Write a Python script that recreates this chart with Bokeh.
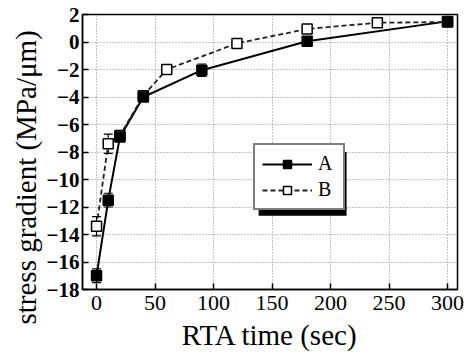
from bokeh.plotting import figure
from bokeh.models import (ColumnDataSource, Whisker, TeeHead, FixedTicker, Legend,
                          LegendItem, BoxAnnotation, Title, Range1d)
from bokeh.embed import file_html
from bokeh.resources import INLINE

# ---- data ----
x_A = [0, 10, 20, 40, 90, 180, 300]
y_A = [-17.0, -11.5, -6.9, -4.0, -2.05, 0.05, 1.5]
err_A = [0.5, 0.5, 0.3, 0.3, 0.45, 0.3, 0.2]

x_B = [0, 10, 20, 40, 60, 120, 180, 240, 300]
y_B = [-13.4, -7.4, -6.8, -3.9, -2.0, -0.1, 0.95, 1.4, 1.45]
err_B = [0.7, 0.7, 0.3, 0.3, 0.3, 0.3, 0.3, 0.3, 0.2]

x_ticks = [0, 50, 100, 150, 200, 250, 300]
y_ticks = [-18, -16, -14, -12, -10, -8, -6, -4, -2, 0, 2]

FONT = "Liberation Serif"

srcA = ColumnDataSource(dict(x=x_A, y=y_A,
                             lo=[y - e for y, e in zip(y_A, err_A)],
                             hi=[y + e for y, e in zip(y_A, err_A)]))
srcB = ColumnDataSource(dict(x=x_B, y=y_B,
                             lo=[y - e for y, e in zip(y_B, err_B)],
                             hi=[y + e for y, e in zip(y_B, err_B)]))

p = figure(width=471, height=353, output_backend="svg", toolbar_location=None,
           x_range=Range1d(-12, 308.5), y_range=Range1d(-18, 2),
           min_border_left=82, min_border_right=14, min_border_top=14, min_border_bottom=63)
p.background_fill_color = "white"
p.border_fill_color = "white"
p.outline_line_color = "black"
p.outline_line_width = 1.5

# grid
for g in (p.xgrid, p.ygrid):
    g.grid_line_color = "#888888"
    g.grid_line_dash = "1 2"
    g.grid_line_width = 1
p.xgrid.ticker = FixedTicker(ticks=x_ticks)
p.ygrid.ticker = FixedTicker(ticks=y_ticks)

# axes
p.xaxis.ticker = FixedTicker(ticks=x_ticks)
p.yaxis.ticker = FixedTicker(ticks=y_ticks)
for ax in (p.xaxis[0], p.yaxis[0]):
    ax.axis_line_color = "black"
    ax.axis_line_width = 1.5
    ax.major_tick_in = 6
    ax.major_tick_out = 0
    ax.major_tick_line_width = 1.5
    ax.minor_tick_line_color = None
    ax.major_label_text_font = FONT
    ax.major_label_text_color = "black"
p.xaxis.major_label_text_font_size = "22px"
p.xaxis.major_label_standoff = 6
p.yaxis.major_label_text_font_size = "21px"
p.yaxis.major_label_text_font_style = "bold"
p.yaxis.major_label_standoff = 3

p.xaxis.axis_label = "RTA time (sec)"
p.xaxis.axis_label_text_font = FONT
p.xaxis.axis_label_text_font_size = "29px"
p.xaxis.axis_label_text_font_style = "normal"
p.xaxis.axis_label_text_color = "black"
p.xaxis.axis_label_standoff = 6

# y axis title, anchored at its start like the original
ytitle = Title(text="stress gradient (MPa/\u03bcm)", align="left", offset=-35,
               text_font=FONT, text_font_size="29px", text_font_style="normal",
               text_color="black", standoff=4)
p.add_layout(ytitle, "left")

# error bars
for src in (srcA, srcB):
    w = Whisker(source=src, base="x", lower="lo", upper="hi", line_color="black",
                line_width=1.2,
                lower_head=TeeHead(size=9, line_color="black", line_width=1.2),
                upper_head=TeeHead(size=9, line_color="black", line_width=1.2))
    p.add_layout(w)

lA = p.line("x", "y", source=srcA, line_color="black", line_width=2)
lB = p.line("x", "y", source=srcB, line_color="#222222", line_width=1.8, line_dash="5 3")
mB = p.scatter("x", "y", source=srcB, marker="square", size=10, fill_color="white",
               line_color="black", line_width=1.5)
mA = p.scatter("x", "y", source=srcA, marker="square", size=10, fill_color="black",
               line_color="black", line_width=1.5)

# legend shadow
shadow = BoxAnnotation(left=138.5, right=213.7, top=-8.0, bottom=-12.64,
                       fill_color="black", fill_alpha=1, line_color=None, level="underlay")
p.add_layout(shadow)

legend = Legend(items=[LegendItem(label="A", renderers=[lA, mA]),
                       LegendItem(label="B", renderers=[lB, mB])],
                location=(171, 79))
legend.label_text_font = FONT
legend.label_text_font_size = "20px"
legend.label_text_color = "black"
legend.border_line_color = "black"
legend.border_line_width = 2
legend.background_fill_color = "white"
legend.background_fill_alpha = 1
legend.glyph_width = 50
legend.glyph_height = 20
legend.label_height = 20
legend.label_width = 18
legend.label_standoff = 6
legend.padding = 7
legend.spacing = 3
legend.margin = 0
p.add_layout(legend)

open("out.html", "w").write(file_html(p, INLINE))
